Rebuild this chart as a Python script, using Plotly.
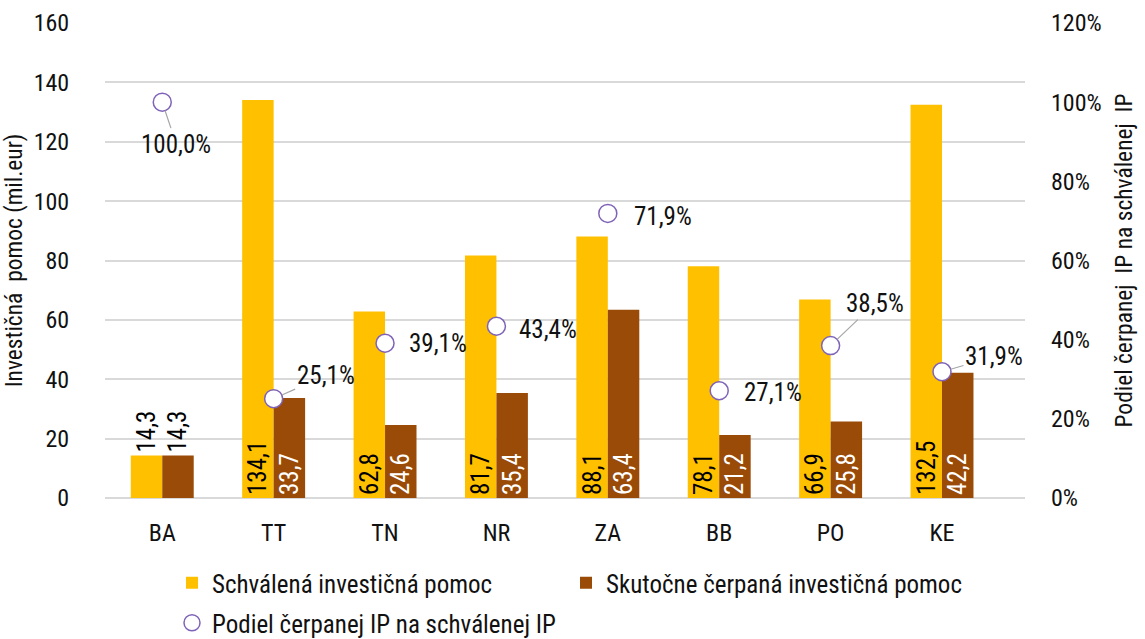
import plotly.graph_objects as go

regions = ["BA", "TT", "TN", "NR", "ZA", "BB", "PO", "KE"]
approved = [14.3, 134.1, 62.8, 81.7, 88.1, 78.1, 66.9, 132.5]
drawn = [14.3, 33.7, 24.6, 35.4, 63.4, 21.2, 25.8, 42.2]
share = [1.000, 0.251, 0.391, 0.434, 0.719, 0.271, 0.385, 0.319]

# label offsets (px) for the share labels and whether a leader line is drawn
label_dx = [14, 52, 53, 52, 55, 54, 44, 52]
label_dy = [42, -23, 0, 3, 3, 2, -42, -15]
label_line = [True, True, False, False, False, False, True, True]

FONT = "Roboto Condensed, DejaVu Sans Condensed, Liberation Sans Narrow, Arial Narrow, sans-serif"
YELLOW = "#FFC000"
BROWN = "#9A4B08"
PURPLE = "#7F63B8"
TXT = "#111111"

fig = go.Figure()

ba_pos = ["outside" if v < 20 else "inside" for v in approved]
fig.add_trace(go.Bar(
    x=regions, y=approved, name="Schválená investičná pomoc",
    marker=dict(color=YELLOW, line=dict(width=0)),
    texttemplate="%{y:.1f}", textangle=-90,
    textposition=ba_pos, insidetextanchor="start", constraintext="none",
    textfont=dict(color="#000000", size=25, family=FONT),
    insidetextfont=dict(color="#000000", size=25, family=FONT),
    outsidetextfont=dict(color="#000000", size=25, family=FONT),
    cliponaxis=False, legend="legend",
))
fig.add_trace(go.Bar(
    x=regions, y=drawn, name="Skutočne čerpaná investičná pomoc",
    marker=dict(color=BROWN, line=dict(width=0)),
    texttemplate="%{y:.1f}", textangle=-90,
    textposition=ba_pos, insidetextanchor="start", constraintext="none",
    textfont=dict(color="#ffffff", size=25, family=FONT),
    insidetextfont=dict(color="#ffffff", size=25, family=FONT),
    outsidetextfont=dict(color="#000000", size=25, family=FONT),
    cliponaxis=False, legend="legend2",
))
fig.add_trace(go.Scatter(
    x=regions, y=share, name="Podiel čerpanej IP na schválenej IP",
    mode="markers", yaxis="y2",
    marker=dict(symbol="circle", size=18, color="#ffffff",
                line=dict(color=PURPLE, width=1.5)),
    cliponaxis=False, legend="legend3",
))

for r, s, dx, dy, ln in zip(regions, share, label_dx, label_dy, label_line):
    txt = f"{s*100:.1f}".replace(".", ",") + "%"
    fig.add_annotation(
        x=r, y=s, xref="x", yref="y2", text=txt,
        showarrow=True, ax=dx, ay=dy, axref="pixel", ayref="pixel",
        arrowhead=0, arrowwidth=1.2,
        arrowcolor="#a6a6a6" if ln else "rgba(0,0,0,0)",
        standoff=9,
        font=dict(size=25, color=TXT, family=FONT),
    )

leg_common = dict(xref="container", yref="container", xanchor="left",
                  yanchor="middle", orientation="h",
                  font=dict(size=25, color=TXT), bgcolor="rgba(0,0,0,0)")

fig.update_layout(
    width=1145, height=639,
    margin=dict(l=105, r=120, t=23, b=141, autoexpand=False),
    paper_bgcolor="white", plot_bgcolor="white",
    separators=", ",
    barmode="group", bargap=0.435, bargroupgap=0,
    font=dict(family=FONT, size=24, color=TXT),
    xaxis=dict(showline=False, ticks="", tickfont=dict(size=24, color=TXT),
               showgrid=False, ticklabelstandoff=18, automargin=False),
    yaxis=dict(range=[0, 160], dtick=20, showgrid=True, gridcolor="#d9d9d9",
               gridwidth=1.5, zeroline=True, zerolinecolor="#d9d9d9", zerolinewidth=1.5,
               showline=False, ticks="outside", ticklen=30, tickcolor="rgba(0,0,0,0)",
               tickfont=dict(size=24, color=TXT), automargin=False,
               title=dict(text="Investičná  pomoc (mil.eur)", standoff=14,
                          font=dict(size=23.5, color=TXT))),
    yaxis2=dict(range=[0, 1.2], dtick=0.2, tickformat=".0%", overlaying="y",
                side="right", showgrid=False, zeroline=False, showline=False,
                ticks="", ticklabelstandoff=25, automargin=False,
                tickfont=dict(size=24, color=TXT),
                title=dict(text="Podiel čerpanej  IP na schválenej  IP", standoff=14,
                           font=dict(size=23.5, color=TXT))),
    legend=dict(x=172/1145, y=1-583/639, **leg_common),
    legend2=dict(x=566/1145, y=1-583/639, **leg_common),
    legend3=dict(x=172/1145, y=1-623/639, **leg_common),
    showlegend=True,
)

fig.write_html("out.html", config={"displayModeBar": False},
               post_script="document.body.style.margin='0';")
